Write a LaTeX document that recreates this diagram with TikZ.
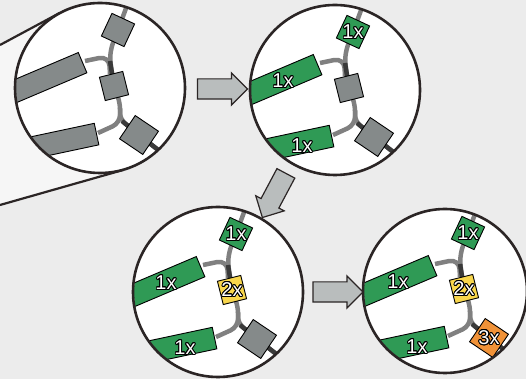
\documentclass[tikz,border=0pt]{standalone}
\usepackage{fontspec}
\setsansfont{Liberation Sans}
\usepackage{contour}
\usetikzlibrary{calc}
\usetikzlibrary{shapes.arrows}

\definecolor{bg}{HTML}{ECECEC}
\definecolor{wedge}{HTML}{F6F6F6}
\definecolor{rim}{HTML}{2B2525}
\definecolor{stemgray}{HTML}{808080}
\definecolor{stemdark}{HTML}{3A3A3A}
\definecolor{boxgray}{HTML}{858A8A}
\definecolor{onex}{HTML}{2F9A55}
\definecolor{twox}{HTML}{F8D64C}
\definecolor{threex}{HTML}{F09238}
\definecolor{arrowfill}{HTML}{B9BDBD}

\contourlength{0.9pt}

\tikzset{
  lens/.style={circle, fill=white, minimum size=170pt, inner sep=0pt},
  rimline/.style={draw=rim, line width=2.6pt},
  stem/.style={draw=stemgray, line width=4.5pt, rounded corners=6pt},
  stemhi/.style={stem, draw=stemdark},
  box/.style={draw=black, line width=0.9pt, inner sep=0pt, minimum size=#1},
  bar/.style={draw=black, line width=0.9pt, inner sep=0pt, minimum height=22pt,
    minimum width=130pt, anchor=east},
  count/.style={font=\fontsize{20}{20}\sffamily, text=white, inner sep=0pt},
  flowarrow/.style={single arrow, draw=rim, fill=arrowfill, line width=1.2pt,
    minimum height=50pt, inner xsep=0pt, inner ysep=9.5pt,
    single arrow head extend=6pt},
}

% rim radius and sideways offset of the contents
\def\lensr{85}
\def\lensdx{0}

% one magnified view: #1 centre node, #2/#3 bars, #4/#5 top box,
% #6/#7 middle box, #8/#9 lower box
\newcommand{\lensview}[9]{
  \begin{scope}
    \clip (#1.center) circle (\lensr pt - 1pt);
    \begin{scope}[shift={($(#1.center)+(\lensdx,0)$)}]
    \draw[stem] (32,96) -- (18,58) -- (11,40) -- (10,28) -- (14,2) -- (20,-15)
      -- (20,-31) -- (39,-47) -- (75,-75);
    \draw[stem, rounded corners=10pt] (-15,27) -- (9,32) -- (10,14);
    \draw[stem, rounded corners=8pt] (-2,-45) -- (20,-35) -- (20,-20);
    \draw[stemhi] (10,27) -- (14,2);
    \draw[stemhi] (22,-33) -- (39,-47) -- (75,-75);
    \node[bar, fill=#2, rotate=23] (#1-ubar) at (-17,25.5) {};
    \node[count] (#1-ubartxt) at (-52,9) {\contour{black}{#3}};
    \node[bar, fill=#2, rotate=12] (#1-lbar) at (-3,-46) {};
    \node[count] (#1-lbartxt) at (-33,-56) {\contour{black}{#3}};
    \node[box=25pt, fill=#4, rotate=-25] (#1-top) at (18,58) {};
    \node[count] (#1-toptxt) at (18,58) {\contour{black}{#5}};
    \node[box=24pt, fill=#6, rotate=14] (#1-mid) at (14,2) {};
    \node[count] (#1-midtxt) at (14,2) {\contour{black}{#7}};
    \node[box=28pt, fill=#8, rotate=-34] (#1-low) at (39,-47) {};
    \node[count] (#1-lowtxt) at (39,-47) {\contour{black}{#9}};
    \end{scope}
  \end{scope}
  \draw[rimline] (#1.center) circle (\lensr pt);
}

\begin{document}
\begin{tikzpicture}[x=1pt, y=1pt]
  \fill[bg] (0,0) rectangle (526,379);
  \useasboundingbox (0,0) rectangle (526,379);

  \node[lens] (lens1) at (100,291) {};
  \node[lens] (lens2) at (335,289) {};
  \node[lens] (lens3) at (218,87) {};
  \node[lens, minimum size=164pt] (lens4) at (445,88) {};

  % zoom cone into the first view
  \coordinate (cone top) at (0,334);
  \coordinate (cone bot) at (0,174);
  \coordinate (tan top) at (tangent cs:node=lens1, point={(cone top)}, solution=2);
  \coordinate (tan bot) at (tangent cs:node=lens1, point={(cone bot)}, solution=1);
  \fill[wedge] (cone top) -- (tan top) -- (lens1.center) -- (tan bot) -- (cone bot) -- cycle;
  \fill[white] (lens1.center) circle (85pt);
  \draw[rim, line width=2.2pt] (cone top) -- (tan top);
  \draw[rim, line width=2.2pt] (cone bot) -- (tan bot);

  \lensview{lens1}{boxgray}{}{boxgray}{}{boxgray}{}{boxgray}{}
  \lensview{lens2}{onex}{1x}{onex}{1x}{boxgray}{}{boxgray}{}
  \lensview{lens3}{onex}{1x}{onex}{1x}{twox}{2x}{boxgray}{}
  \def\lensr{82}
  \def\lensdx{5}
  \lensview{lens4}{onex}{1x}{onex}{1x}{twox}{2x}{threex}{3x}

  \node[flowarrow] (step12) at ($(lens1)!0.5!(lens2)$) {};
  \node[flowarrow, rotate=242] (step23) at ($(lens2)!0.5!(lens3)$) {};
  \node[flowarrow] (step34) at (333,87) {};
\end{tikzpicture}
\end{document}
